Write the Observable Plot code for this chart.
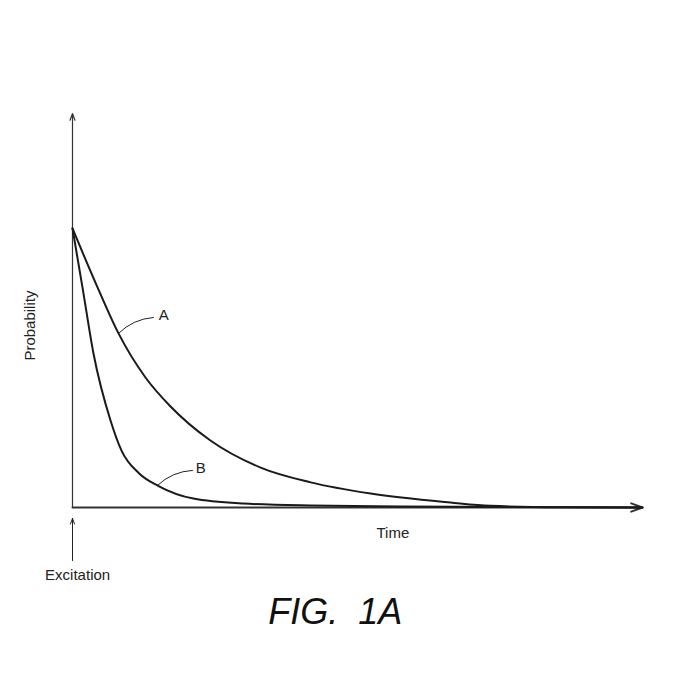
<!DOCTYPE html>
<html>
<head>
<meta charset="utf-8">
<script src="https://cdn.jsdelivr.net/npm/d3@7"></script>
<script src="https://cdn.jsdelivr.net/npm/@observablehq/plot@0.6"></script>
<style>
  html, body { margin: 0; padding: 0; background: #fff; }
  svg { font-family: "Liberation Sans", Arial, sans-serif; }
</style>
</head>
<body>
<div id="chart"></div>
<script>
// Curve A (slow decay)
const timeA = [0, 0.439, 0.807, 1.28, 1.72, 2.42, 3.30, 4.18, 5.23, 6.63, 7.33, 8.56, 10];
const probA = [1, 0.789, 0.624, 0.466, 0.362, 0.240, 0.143, 0.090, 0.050, 0.018, 0.006, 0.001, 0];
// Curve B (fast decay)
const timeB = [0, 0.175, 0.368, 0.667, 0.86, 1.17, 1.51, 2.12, 3.0, 4.18, 5.75, 10];
const probB = [1, 0.789, 0.552, 0.312, 0.204, 0.122, 0.077, 0.032, 0.014, 0.007, 0.004, 0];
const seriesLabels = ["A", "B"];

const dataA = timeA.map((t, i) => ({t, p: probA[i]}));
const dataB = timeB.map((t, i) => ({t, p: probB[i]}));

const xMax = 10, yMax = 1.412;

const chart = Plot.plot({
  width: 675,
  height: 681,
  marginLeft: 72,
  marginRight: 33,
  marginTop: 113,
  marginBottom: 174,
  x: {domain: [0, xMax], axis: null},
  y: {domain: [0, yMax], axis: null},
  marks: [
    // axes with arrowheads
    Plot.arrow([{x1: 0, y1: 0, x2: 0, y2: yMax}], {x1: "x1", y1: "y1", x2: "x2", y2: "y2", stroke: "#333", strokeWidth: 1.2, headLength: 9, headAngle: 40}),
    Plot.arrow([{x1: 0, y1: 0, x2: xMax, y2: 0}], {x1: "x1", y1: "y1", x2: "x2", y2: "y2", stroke: "#333", strokeWidth: 2, headLength: 9, headAngle: 40}),
    // curves
    Plot.line(dataA, {x: "t", y: "p", curve: "monotone-x", stroke: "#1a1a1a", strokeWidth: 2}),
    Plot.line(dataB, {x: "t", y: "p", curve: "monotone-x", stroke: "#1a1a1a", strokeWidth: 2}),
    // leader lines
    Plot.arrow([{x1: 0.807, y1: 0.624, x2: 1.42, y2: 0.681}], {x1: "x1", y1: "y1", x2: "x2", y2: "y2", bend: 20, headLength: 0, stroke: "#222", strokeWidth: 1}),
    Plot.arrow([{x1: 1.49, y1: 0.079, x2: 2.105, y2: 0.133}], {x1: "x1", y1: "y1", x2: "x2", y2: "y2", bend: 20, headLength: 0, stroke: "#222", strokeWidth: 1}),
    // series labels
    Plot.text([{x: 1.60, y: 0.688, s: seriesLabels[0]}], {x: "x", y: "y", text: "s", fontSize: 15, fill: "#222"}),
    Plot.text([{x: 2.25, y: 0.14, s: seriesLabels[1]}], {x: "x", y: "y", text: "s", fontSize: 15, fill: "#222"}),
    // axis titles
    Plot.text(["Probability"], {x: -0.737, y: 0.652, text: d => d, rotate: -90, fontSize: 15, fill: "#222"}),
    Plot.text(["Time"], {x: 5.62, y: -0.091, text: d => d, fontSize: 15, fill: "#222"}),
    // excitation arrow
    Plot.arrow([{x1: 0, y1: -0.19, x2: 0, y2: -0.039}], {x1: "x1", y1: "y1", x2: "x2", y2: "y2", stroke: "#222", strokeWidth: 1, headLength: 9, headAngle: 40}),
    Plot.text(["Excitation"], {x: 0.09, y: -0.244, text: d => d, fontSize: 15, fill: "#222"}),
    // figure caption
    Plot.text(["FIG.  1A"], {x: 4.61, y: -0.376, text: d => d, fontSize: 36, fontStyle: "italic", fill: "#111"})
  ]
});
document.getElementById("chart").appendChild(chart);
</script>
</body>
</html>
